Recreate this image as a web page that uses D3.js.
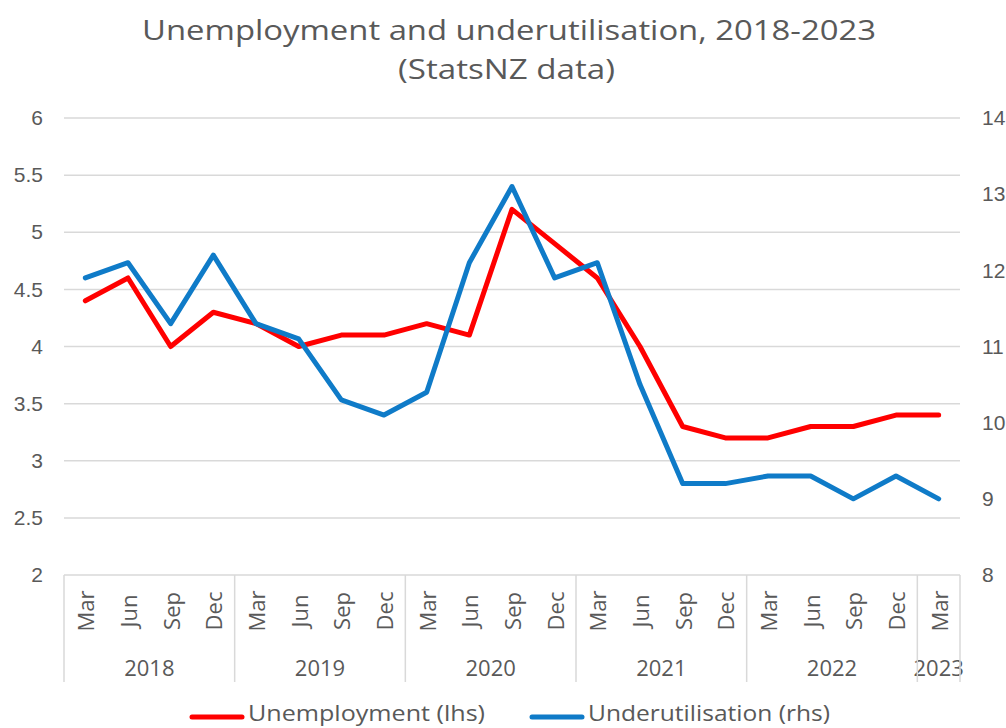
<!DOCTYPE html>
<html>
<head>
<meta charset="utf-8">
<script src="https://cdn.jsdelivr.net/npm/d3@7"></script>
<style>
  html, body { margin: 0; padding: 0; background: #ffffff; }
  svg { display: block; font-family: "Open Sans", "DejaVu Sans", sans-serif; }
</style>
</head>
<body>
<svg id="chart" width="1006" height="728"></svg>
<script>
// ---- data ----
const months = ["Mar","Jun","Sep","Dec","Mar","Jun","Sep","Dec","Mar","Jun","Sep","Dec","Mar","Jun","Sep","Dec","Mar","Jun","Sep","Dec","Mar"];
const years = ["2018","2018","2018","2018","2019","2019","2019","2019","2020","2020","2020","2020","2021","2021","2021","2021","2022","2022","2022","2022","2023"];
const unemployment = [4.4,4.6,4.0,4.3,4.2,4.0,4.1,4.1,4.2,4.1,5.2,4.9,4.6,4.0,3.3,3.2,3.2,3.3,3.3,3.4,3.4];
const underutilisation = [11.9,12.1,11.3,12.2,11.3,11.1,10.3,10.1,10.4,12.1,13.1,11.9,12.1,10.5,9.2,9.2,9.3,9.3,9.0,9.3,9.0];
const leftTicks = [2,2.5,3,3.5,4,4.5,5,5.5,6];
const rightTicks = [8,9,10,11,12,13,14];
const titleLines = ["Unemployment and underutilisation, 2018-2023","(StatsNZ data)"];
const seriesNames = ["Unemployment (lhs)","Underutilisation (rhs)"];

// ---- layout ----
const svg = d3.select("#chart");
const L = 64, R = 960, T = 118, B = 575;
const textColor = "#595959", gridColor = "#d9d9d9";
const red = "#ff0000", blue = "#0f7bc8";

const idx = months.map((d,i)=>i);
const x = d3.scaleBand().domain(idx).range([L,R]).paddingInner(0).paddingOuter(0);
const cx = i => x(i) + x.bandwidth()/2;
const yL = d3.scaleLinear().domain([2,6]).range([B,T]);
const yR = d3.scaleLinear().domain([8,14]).range([B,T]);

// title
const titleX = [509, 506.5], titleY = [40, 79], titleW = [734, 217];
svg.append("g").selectAll("text").data(titleLines).join("text")
  .attr("x", (d,i)=>titleX[i]).attr("y", (d,i)=> titleY[i])
  .attr("text-anchor","middle")
  .attr("font-size", 28).attr("fill", textColor)
  .attr("textLength", (d,i)=>titleW[i]).attr("lengthAdjust","spacingAndGlyphs")
  .text(d=>d);

// gridlines
svg.append("g").selectAll("line").data(leftTicks).join("line")
  .attr("x1", L).attr("x2", R)
  .attr("y1", d=>yL(d)).attr("y2", d=>yL(d))
  .attr("stroke", gridColor).attr("stroke-width", 1.5);

// left axis labels
const gl = svg.append("g").attr("transform", `translate(${L},0)`)
  .call(d3.axisLeft(yL).tickValues(leftTicks).tickSize(0).tickPadding(21).tickFormat(d3.format("")));
gl.select(".domain").remove();
gl.selectAll("text").attr("font-size", 21).attr("fill", textColor).attr("font-family", null);

// right axis labels
const gr = svg.append("g").attr("transform", `translate(${R},0)`)
  .call(d3.axisRight(yR).tickValues(rightTicks).tickSize(0).tickPadding(22).tickFormat(d3.format("")));
gr.select(".domain").remove();
gr.selectAll("text").attr("font-size", 21).attr("fill", textColor).attr("font-family", null);

// x axis: month labels
svg.append("g").selectAll("text").data(idx).join("text")
  .attr("transform", i => `translate(${cx(i)},611) rotate(-90)`)
  .attr("text-anchor","middle").attr("dominant-baseline","central")
  .attr("font-size", 22).attr("fill", textColor)
  .text(i => months[i]);

// year groups
const yearGroups = d3.groups(idx, i => years[i]);
svg.append("g").selectAll("text").data(yearGroups).join("text")
  .attr("x", g => (x(g[1][0]) + x(g[1][g[1].length-1]) + x.bandwidth())/2)
  .attr("y", 667).attr("text-anchor","middle").attr("dominant-baseline","central")
  .attr("font-size", 22).attr("fill", textColor)
  .text(g => g[0]);

// separators
const seps = yearGroups.map(g => x(g[1][0])).concat([R]);
svg.append("g").selectAll("line").data(seps).join("line")
  .attr("x1", d=>d).attr("x2", d=>d).attr("y1", B).attr("y2", 682)
  .attr("stroke", gridColor).attr("stroke-width", 1.5);

// lines
const lineL = d3.line().x((d,i)=>cx(i)).y(d=>yL(d));
const lineR = d3.line().x((d,i)=>cx(i)).y(d=>yR(d));
svg.append("path").datum(unemployment).attr("d", lineL)
  .attr("fill","none").attr("stroke", red).attr("stroke-width", 5)
  .attr("stroke-linejoin","round").attr("stroke-linecap","round");
svg.append("path").datum(underutilisation).attr("d", lineR)
  .attr("fill","none").attr("stroke", blue).attr("stroke-width", 5)
  .attr("stroke-linejoin","round").attr("stroke-linecap","round");

// legend
const legendX = [192, 532], legendW = [237, 242];
const leg = svg.append("g").selectAll("g").data(seriesNames).join("g")
  .attr("transform", (d,i)=>`translate(${legendX[i]},717)`);
leg.append("line").attr("x1",0).attr("x2",50).attr("y1",0).attr("y2",0)
  .attr("stroke",(d,i)=> i===0 ? red : blue).attr("stroke-width",5).attr("stroke-linecap","round");
leg.append("text").attr("x",56).attr("y",4)
  .attr("font-size",22).attr("fill",textColor)
  .attr("textLength",(d,i)=>legendW[i]).attr("lengthAdjust","spacingAndGlyphs")
  .text(d=>d);
</script>
</body>
</html>
